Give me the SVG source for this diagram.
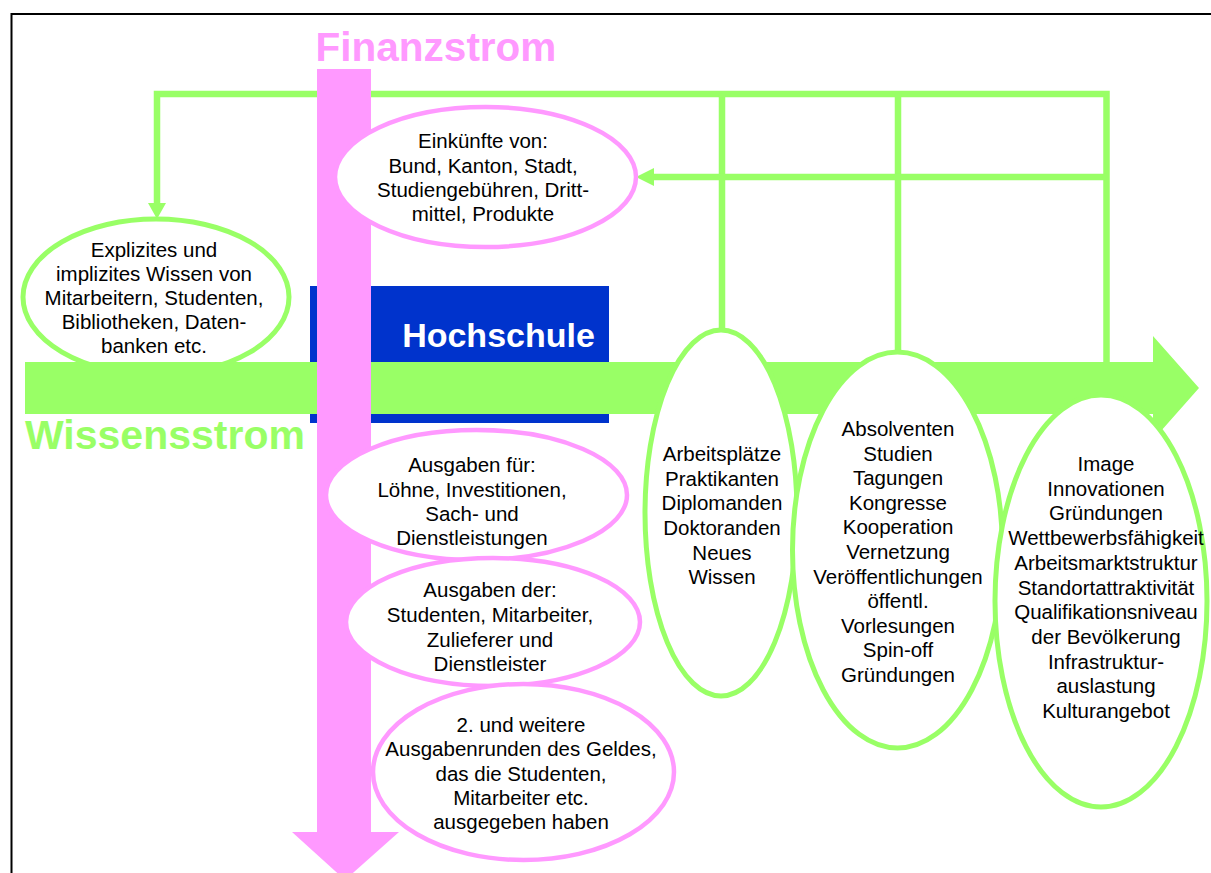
<svg xmlns="http://www.w3.org/2000/svg" width="1211" height="873" viewBox="0 0 1211 873">
<style>
.t{font-family:"Liberation Sans",Arial,sans-serif;font-size:20.5px;fill:#000;text-anchor:middle}
.gE{fill:#fff;stroke:#99FF66;stroke-width:5}
.pE{fill:#fff;stroke:#FF99FF;stroke-width:4.5}
.ln{fill:none;stroke:#99FF66;stroke-width:6.5}
.big{font-family:"Liberation Sans",Arial,sans-serif;font-weight:bold}
</style>
<rect x="0" y="0" width="1211" height="873" fill="#fff"/>
<rect id="frame" x="11.5" y="14" width="1230" height="900" fill="none" stroke="#000" stroke-width="2"/>

<g id="hochschule-box">
<rect x="310" y="286" width="299" height="137" fill="#0033CC"/>
</g>

<g id="n-explizit">
<ellipse class="gE" cx="156" cy="297" rx="133" ry="78"/>
</g>

<g id="wissensstrom">
<polygon points="25,362 1153,362 1153,336 1199,388 1153,440 1153,414 25,414" fill="#99FF66"/>
<text class="big" x="25" y="449" font-size="41" fill="#99FF66">Wissensstrom</text>
</g>

<g id="hochschule-label">
<text class="big" x="498.5" y="347" font-size="34" fill="#fff" text-anchor="middle">Hochschule</text>
</g>

<g id="connectors">
<polyline class="ln" points="157,204 157,94 1106.5,94 1106.5,362"/>
<polygon points="148,203 166,203 157,219" fill="#99FF66"/>
<line class="ln" x1="722" y1="94" x2="722" y2="331"/>
<line class="ln" x1="898" y1="94" x2="898" y2="353"/>
<line class="ln" x1="1106.5" y1="177" x2="651" y2="177"/>
<polygon points="654,168 654,186 636,177" fill="#99FF66"/>
</g>

<g id="finanzstrom">
<polygon points="317,69 371,69 371,832 399,832 345,880 292,832 317,832" fill="#FF99FF"/>
<text class="big" x="436" y="61" font-size="40.5" fill="#FF99FF" text-anchor="middle">Finanzstrom</text>
</g>

<g id="n-einkuenfte">
<ellipse class="pE" cx="485.5" cy="177" rx="150.5" ry="70"/>
<text class="t"><tspan x="483" y="148">Einkünfte von:</tspan><tspan x="483" y="172.5">Bund, Kanton, Stadt,</tspan><tspan x="483" y="197">Studiengebühren, Dritt-</tspan><tspan x="483" y="221">mittel, Produkte</tspan></text>
</g>

<g id="n-explizit-text">
<text class="t"><tspan x="154" y="257">Explizites und</tspan><tspan x="154" y="281">implizites Wissen von</tspan><tspan x="154" y="305">Mitarbeitern, Studenten,</tspan><tspan x="154" y="329">Bibliotheken, Daten-</tspan><tspan x="154" y="353">banken etc.</tspan></text>
</g>

<g id="n-ausgaben-fuer">
<ellipse class="pE" cx="476.5" cy="495" rx="150.5" ry="65"/>
<text class="t"><tspan x="472" y="472">Ausgaben für:</tspan><tspan x="472" y="496.5">Löhne, Investitionen,</tspan><tspan x="472" y="521">Sach- und</tspan><tspan x="472" y="545">Dienstleistungen</tspan></text>
</g>

<g id="n-ausgaben-der">
<ellipse class="pE" cx="493" cy="622" rx="147" ry="64"/>
<text class="t"><tspan x="490" y="597">Ausgaben der:</tspan><tspan x="490" y="622">Studenten, Mitarbeiter,</tspan><tspan x="490" y="647">Zulieferer und</tspan><tspan x="490" y="671">Dienstleister</tspan></text>
</g>

<g id="n-weitere">
<ellipse class="pE" cx="523.5" cy="772" rx="150.5" ry="88"/>
<text class="t"><tspan x="521" y="732">2. und weitere</tspan><tspan x="521" y="756">Ausgabenrunden des Geldes,</tspan><tspan x="521" y="780.5">das die Studenten,</tspan><tspan x="521" y="805">Mitarbeiter etc.</tspan><tspan x="521" y="829">ausgegeben haben</tspan></text>
</g>

<g id="n-arbeitsplaetze">
<ellipse class="gE" cx="721" cy="513" rx="76" ry="183"/>
<text class="t"><tspan x="722" y="461">Arbeitsplätze</tspan><tspan x="722" y="485.5">Praktikanten</tspan><tspan x="722" y="510">Diplomanden</tspan><tspan x="722" y="535">Doktoranden</tspan><tspan x="722" y="559.5">Neues</tspan><tspan x="722" y="584">Wissen</tspan></text>
</g>

<g id="n-absolventen">
<ellipse class="gE" cx="897.5" cy="550" rx="105" ry="198"/>
<text class="t"><tspan x="898" y="436">Absolventen</tspan><tspan x="898" y="460.6">Studien</tspan><tspan x="898" y="485.2">Tagungen</tspan><tspan x="898" y="509.8">Kongresse</tspan><tspan x="898" y="534.4">Kooperation</tspan><tspan x="898" y="559">Vernetzung</tspan><tspan x="898" y="583.6">Veröffentlichungen</tspan><tspan x="898" y="608.2">öffentl.</tspan><tspan x="898" y="632.8">Vorlesungen</tspan><tspan x="898" y="657.4">Spin-off</tspan><tspan x="898" y="682">Gründungen</tspan></text>
</g>

<g id="n-image">
<ellipse class="gE" cx="1101" cy="601" rx="106" ry="206"/>
<text class="t"><tspan x="1106" y="471">Image</tspan><tspan x="1106" y="495.7">Innovationen</tspan><tspan x="1106" y="520.4">Gründungen</tspan><tspan x="1106" y="545.1">Wettbewerbsfähigkeit</tspan><tspan x="1106" y="569.8">Arbeitsmarktstruktur</tspan><tspan x="1106" y="594.5">Standortattraktivität</tspan><tspan x="1106" y="619.2">Qualifikationsniveau</tspan><tspan x="1106" y="643.9">der Bevölkerung</tspan><tspan x="1106" y="668.6">Infrastruktur-</tspan><tspan x="1106" y="693.3">auslastung</tspan><tspan x="1106" y="718">Kulturangebot</tspan></text>
</g>
</svg>
